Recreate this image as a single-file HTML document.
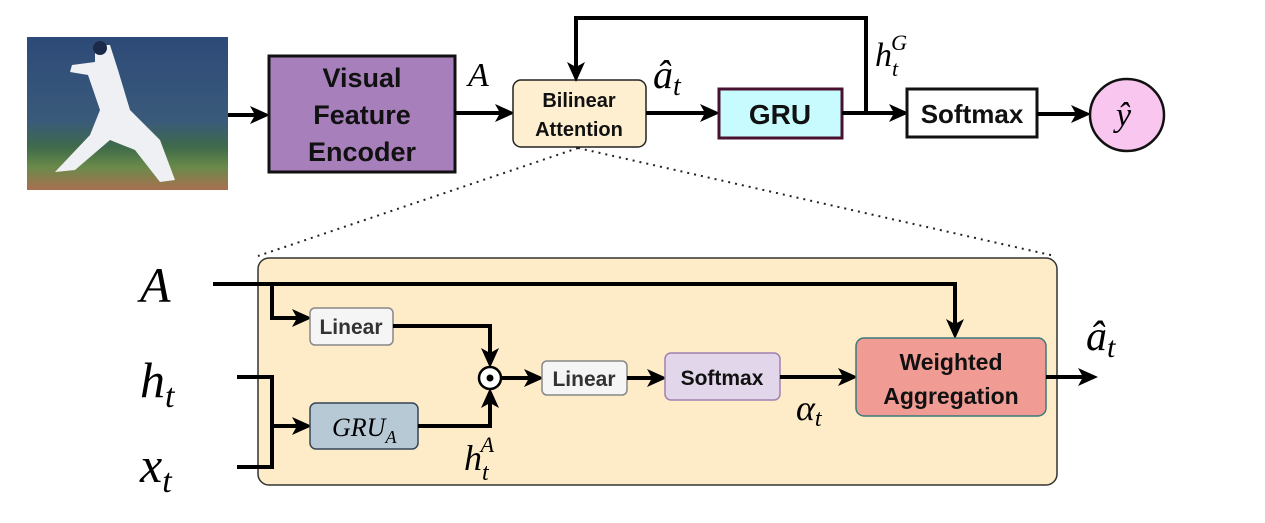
<!DOCTYPE html>
<html><head><style>
body{margin:0;background:#fff;width:1265px;height:518px;overflow:hidden}
text{font-family:"Liberation Sans",sans-serif}
.m{font-family:"Liberation Serif",serif;font-style:italic}
.b{font-weight:bold}
</style></head><body>
<svg width="1265" height="518" viewBox="0 0 1265 518" xmlns="http://www.w3.org/2000/svg">
<defs>
<marker id="ar2" markerWidth="20" markerHeight="20" refX="16" refY="10" orient="auto" markerUnits="userSpaceOnUse" viewBox="0 0 20 20">
<path d="M0,1 L20,10 L0,19 L5,10 z" fill="#000"/></marker>
<linearGradient id="ph" x1="0" y1="0" x2="0" y2="1">
<stop offset="0" stop-color="#2d4a78"/><stop offset="0.55" stop-color="#3a5a7a"/><stop offset="0.72" stop-color="#3f6a4a"/><stop offset="0.85" stop-color="#6a8a4a"/><stop offset="1" stop-color="#a87050"/></linearGradient>
</defs>
<rect x="27" y="37" width="201" height="153" fill="url(#ph)"/>
<path d="M95,45 L110,45 L118,70 L130,110 L160,140 L175,180 L160,182 L135,150 L110,140 L75,170 L55,172 L90,135 L100,110 L88,75 L70,72 L72,65 L95,62 z" fill="#eef0f4"/>
<circle cx="100" cy="48" r="7" fill="#1c2a4a"/>
<line x1="228" y1="115" x2="266" y2="115" stroke="#000" stroke-width="4" marker-end="url(#ar2)"/>
<rect x="269" y="56" width="186" height="116" fill="#a77fbb" stroke="#111" stroke-width="3"/>
<text x="362" y="87" text-anchor="middle" class="b" font-size="27" fill="#111">Visual</text>
<text x="362" y="124" text-anchor="middle" class="b" font-size="27" fill="#111">Feature</text>
<text x="362" y="161" text-anchor="middle" class="b" font-size="27" fill="#111">Encoder</text>
<text x="468" y="86" class="m" font-size="34">A</text>
<line x1="455" y1="113" x2="511" y2="113" stroke="#000" stroke-width="4" marker-end="url(#ar2)"/>
<rect x="513" y="80" width="133" height="67" rx="8" fill="#fdefd0" stroke="#222" stroke-width="1.5"/>
<text x="579" y="107" text-anchor="middle" class="b" font-size="20" fill="#111">Bilinear</text>
<text x="579" y="136" text-anchor="middle" class="b" font-size="20" fill="#111">Attention</text>
<line x1="646" y1="113" x2="716" y2="113" stroke="#000" stroke-width="4" marker-end="url(#ar2)"/>
<text x="653" y="88" class="m" font-size="40">â<tspan font-size="28" dy="7">t</tspan></text>
<rect x="719" y="89" width="123" height="49" fill="#c8fbfd" stroke="#4a1030" stroke-width="3"/>
<text x="780" y="124" text-anchor="middle" class="b" font-size="28" fill="#111">GRU</text>
<line x1="842" y1="113" x2="905" y2="113" stroke="#000" stroke-width="4" marker-end="url(#ar2)"/>
<polyline points="866,113 866,18 576,18 576,78" fill="none" stroke="#000" stroke-width="4" marker-end="url(#ar2)"/>
<text x="875" y="66" class="m" font-size="34">h<tspan font-size="22" dy="10">t</tspan><tspan font-size="22" dx="-7" dy="-26">G</tspan></text>
<rect x="907" y="89" width="130" height="48" fill="#fff" stroke="#111" stroke-width="3"/>
<text x="972" y="123" text-anchor="middle" class="b" font-size="26" fill="#111">Softmax</text>
<line x1="1037" y1="114" x2="1087" y2="114" stroke="#000" stroke-width="4" marker-end="url(#ar2)"/>
<ellipse cx="1127" cy="115" rx="37" ry="36" fill="#f9c6ef" stroke="#111" stroke-width="2.5"/>
<text x="1116" y="126" class="m" font-size="34">ŷ</text>
<line x1="578" y1="148" x2="258" y2="256" stroke="#222" stroke-width="2" stroke-dasharray="2,5"/>
<line x1="578" y1="148" x2="1055" y2="256" stroke="#222" stroke-width="2" stroke-dasharray="2,5"/>
<rect x="258" y="258" width="799" height="227" rx="11" fill="#feecc8" stroke="#333" stroke-width="1.5"/>
<text x="140" y="302" class="m" font-size="50">A</text>
<text x="140" y="397" class="m" font-size="50">h<tspan font-size="34" dy="10">t</tspan></text>
<text x="140" y="482" class="m" font-size="50">x<tspan font-size="34" dy="10">t</tspan></text>
<polyline points="213,284 955,284 955,335" fill="none" stroke="#000" stroke-width="4" marker-end="url(#ar2)"/>
<polyline points="272,284 272,318 308,318" fill="none" stroke="#000" stroke-width="4" marker-end="url(#ar2)"/>
<rect x="310" y="308" width="83" height="37" rx="5" fill="#f5f5f5" stroke="#888" stroke-width="1.5"/>
<text x="351" y="334" text-anchor="middle" class="b" font-size="21" fill="#333">Linear</text>
<polyline points="393,326 490,326 490,364" fill="none" stroke="#000" stroke-width="4" marker-end="url(#ar2)"/>
<polyline points="237,377 272,377 272,467 237,467" fill="none" stroke="#000" stroke-width="4"/>
<line x1="272" y1="426" x2="308" y2="426" stroke="#000" stroke-width="4" marker-end="url(#ar2)"/>
<rect x="310" y="403" width="108" height="46" rx="6" fill="#b8c9d6" stroke="#345" stroke-width="1.5"/>
<text x="332" y="436" class="m" font-size="26">GRU<tspan font-size="18" dy="7">A</tspan></text>
<polyline points="418,426 490,426 490,392" fill="none" stroke="#000" stroke-width="4" marker-end="url(#ar2)"/>
<text x="464" y="470" class="m" font-size="36">h<tspan font-size="24" dy="10">t</tspan><tspan font-size="22" dx="-8" dy="-28">A</tspan></text>
<circle cx="490" cy="378" r="11" fill="#fff" stroke="#000" stroke-width="2.5"/>
<circle cx="490" cy="378" r="3.5" fill="#000"/>
<line x1="501" y1="378" x2="540" y2="378" stroke="#000" stroke-width="4" marker-end="url(#ar2)"/>
<rect x="542" y="361" width="85" height="34" rx="5" fill="#f5f5f5" stroke="#888" stroke-width="1.5"/>
<text x="584" y="386" text-anchor="middle" class="b" font-size="21" fill="#333">Linear</text>
<line x1="627" y1="378" x2="663" y2="378" stroke="#000" stroke-width="4" marker-end="url(#ar2)"/>
<rect x="665" y="353" width="115" height="47" rx="6" fill="#e2d6ea" stroke="#a080b0" stroke-width="1.5"/>
<text x="722" y="385" text-anchor="middle" class="b" font-size="21" fill="#111">Softmax</text>
<line x1="780" y1="377" x2="854" y2="377" stroke="#000" stroke-width="4" marker-end="url(#ar2)"/>
<text x="796" y="420" class="m" font-size="36">α<tspan font-size="24" dy="6">t</tspan></text>
<rect x="856" y="338" width="190" height="78" rx="8" fill="#f09c94" stroke="#3a7a7a" stroke-width="1.5"/>
<text x="951" y="370" text-anchor="middle" class="b" font-size="23" fill="#111">Weighted</text>
<text x="951" y="404" text-anchor="middle" class="b" font-size="23" fill="#111">Aggregation</text>
<line x1="1046" y1="377" x2="1094" y2="377" stroke="#000" stroke-width="4" marker-end="url(#ar2)"/>
<text x="1086" y="350" class="m" font-size="42">â<tspan font-size="30" dy="7">t</tspan></text>
</svg>
</body></html>
